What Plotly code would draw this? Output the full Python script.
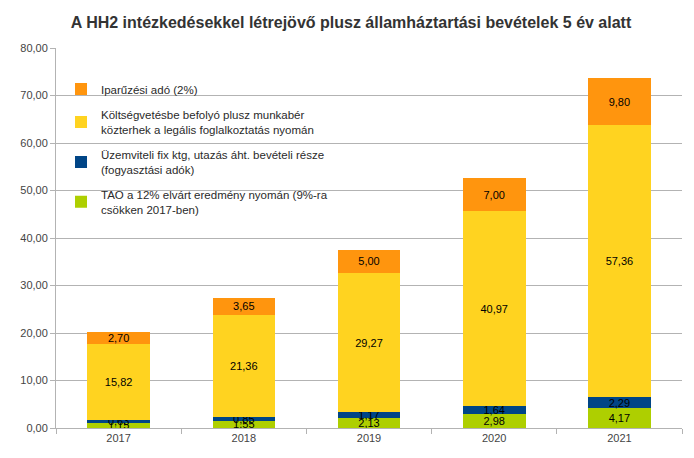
import plotly.graph_objects as go

years = ["2017", "2018", "2019", "2020", "2021"]

tao = [1.15, 1.55, 2.13, 2.98, 4.17]
uzemviteli = [0.63, 0.85, 1.17, 1.64, 2.29]
munkaber = [15.82, 21.36, 29.27, 40.97, 57.36]
iparuzesi = [2.70, 3.65, 5.00, 7.00, 9.80]

# bottom to top in the stack; legend lists them top to bottom
series = [
    ("TAO a 12% elvárt eredmény nyomán (9%-ra<br>csökken 2017-ben)", tao, "#aecf00"),
    ("Üzemviteli fix ktg, utazás áht. bevételi része<br>(fogyasztási adók)", uzemviteli, "#004586"),
    ("Költségvetésbe befolyó plusz munkabér<br>közterhek a legális foglalkoztatás nyomán", munkaber, "#ffd320"),
    ("Iparűzési adó (2%)", iparuzesi, "#ff950e"),
]

fig = go.Figure()
for i, (name, vals, color) in enumerate(series):
    fig.add_trace(go.Bar(
        x=years, y=vals, name=name,
        legendgroup="g%d" % i,
        legendrank=10 - i,
        marker=dict(color=color, line=dict(width=0)),
        texttemplate="%{y:.2f}",
        textposition="inside",
        insidetextanchor="middle",
        textangle=0,
        textfont=dict(size=11, color="#000000"),
        constraintext="none",
        hoverinfo="skip",
    ))

# page body adds an 8px offset, so the figure is 8px smaller than the window
fig.update_layout(
    barmode="stack",
    bargap=0.5,
    width=686, height=450,
    margin=dict(l=39, r=12, t=40, b=30),
    paper_bgcolor="white",
    plot_bgcolor="white",
    separators=", ",
    font=dict(family="Liberation Sans, Arial, sans-serif", color="#333333"),
    uniformtext=dict(minsize=11, mode="show"),
    title=dict(
        text="<b>A HH2 intézkedésekkel létrejövő plusz államháztartási bevételek 5 év alatt</b>",
        x=0.5, xanchor="center", y=0.969, yanchor="middle",
        font=dict(size=16, color="#333333"),
    ),
    legend=dict(
        x=0.008, xanchor="left", y=0.93, yanchor="top",
        traceorder="grouped",
        tracegroupgap=7,
        bgcolor="rgba(0,0,0,0)",
        font=dict(size=11.5, color="#2a2a2a"),
        itemwidth=30,
    ),
    showlegend=True,
)

fig.update_xaxes(
    showline=True, linecolor="#b3b3b3", linewidth=1,
    ticks="outside", ticklen=5, tickcolor="#b3b3b3",
    tickson="boundaries",
    tickfont=dict(size=11, color="#444444"),
    showgrid=False,
)
fig.update_yaxes(
    range=[0, 80], dtick=10, tickformat=".2f",
    showline=True, linecolor="#b3b3b3", linewidth=1,
    ticks="outside", ticklen=5, tickcolor="#b3b3b3",
    showgrid=True, gridcolor="#b3b3b3", gridwidth=1,
    tickfont=dict(size=11, color="#444444"),
    zeroline=False,
)

fig.write_html("out.html")
